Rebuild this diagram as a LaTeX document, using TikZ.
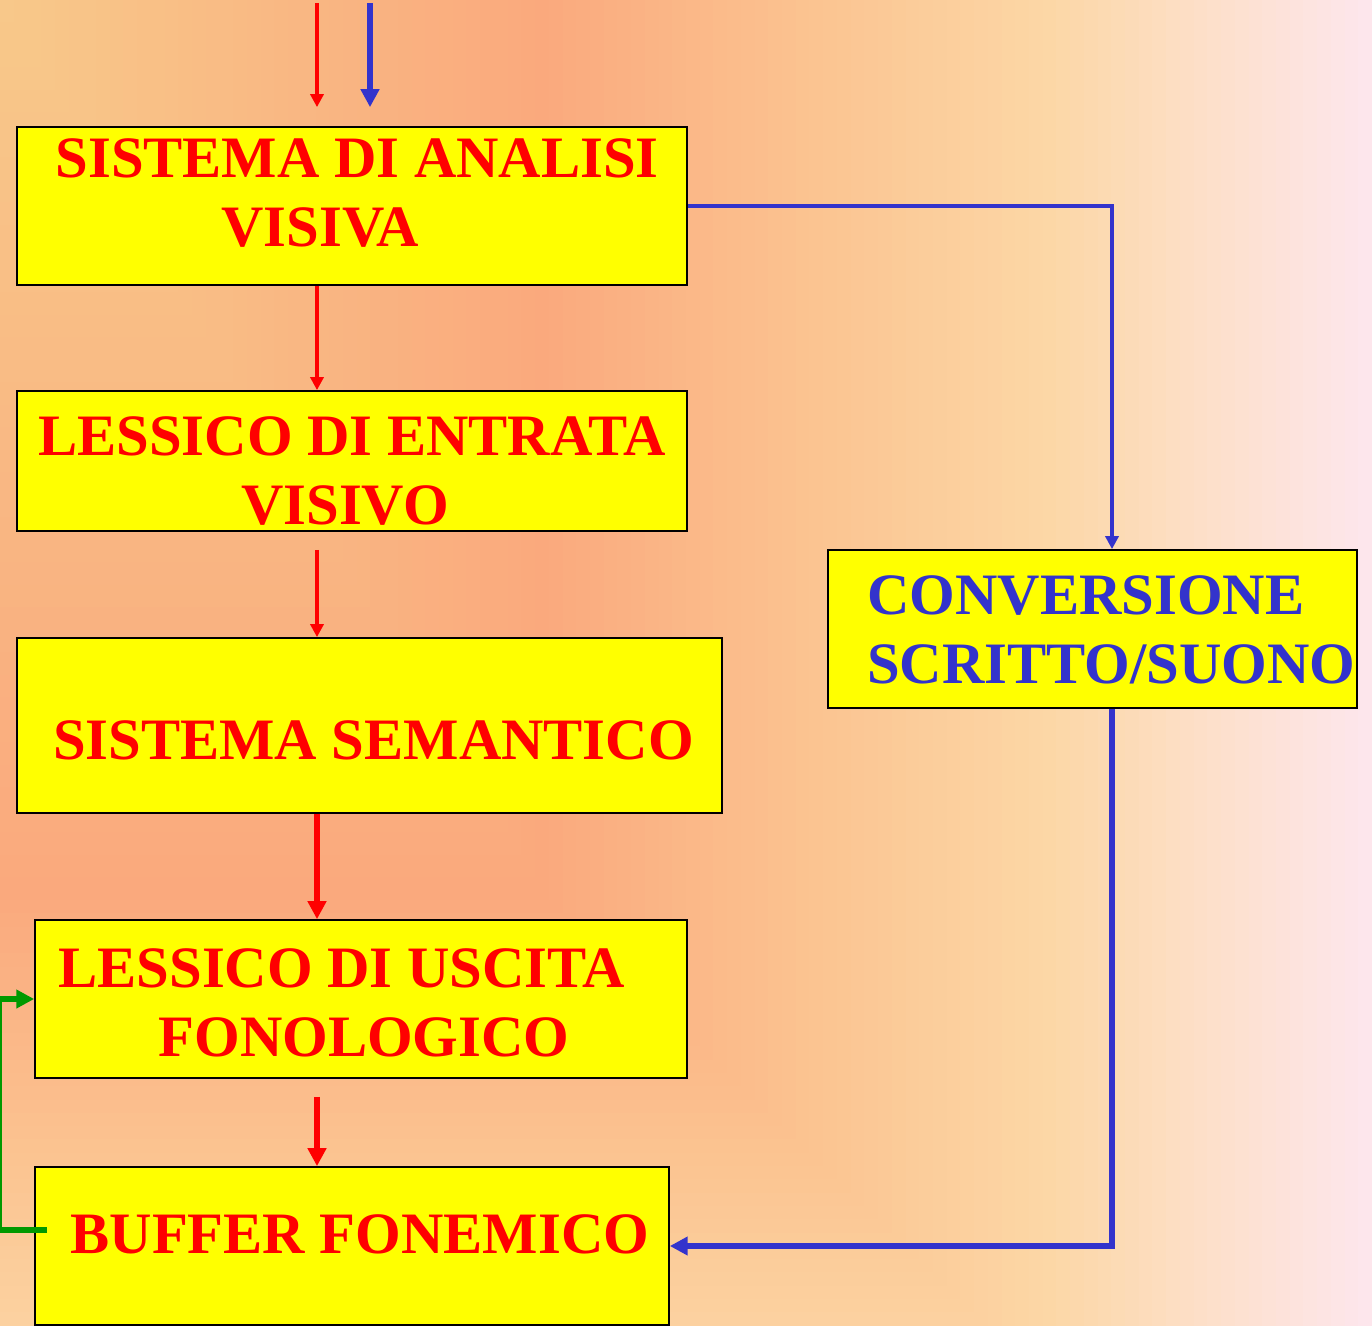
\documentclass[tikz,border=0pt]{standalone}
\usepackage{fontspec}
\setmainfont{Liberation Serif}
\usetikzlibrary{arrows.meta}

\definecolor{boxyellow}{HTML}{FFFF00}
\definecolor{txtred}{HTML}{FF0000}
\definecolor{txtblue}{HTML}{3333CC}
\definecolor{lnkgreen}{HTML}{009900}
\definecolor{bga}{HTML}{F8C98A}
\definecolor{bgb}{HTML}{FAA97D}
\definecolor{bgc}{HTML}{FBC491}
\definecolor{bgd}{HTML}{FCD7A6}
\definecolor{bge}{HTML}{FDDFC8}
\definecolor{bgf}{HTML}{FDE6EC}

% background bands, from t=#1 to t=#2, colour #3 to #4, in #5 steps
\newcommand\bgsegment[5]{%
  \foreach \k in {#5,...,0}{%
    \pgfmathsetmacro\bgt{#1+(#2-#1)*\k/#5}%
    \pgfmathsetmacro\bgy{\bgt<0.4 ? 2250*\bgt : 900+(\bgt-0.4)*1330}%
    \pgfmathtruncatemacro\bgp{100*\k/#5}%
    \fill[#4!\bgp!#3] (0,0) rectangle (1372*\bgt,\bgy);%
  }}

\tikzset{
  box/.style={draw=black, line width=1pt, fill=boxyellow, inner sep=0pt,
    font=\fontsize{33.4}{39.3}\selectfont\bfseries, text=txtred, align=center,
    text depth=0pt},
  redthin/.style={draw=txtred, line width=2.3pt, -{Triangle[length=7.4pt,width=7.4pt]}},
  redthick/.style={draw=txtred, line width=3.3pt, -{Triangle[length=10.2pt,width=10.2pt]}},
  bluethin/.style={draw=txtblue, line width=2.3pt, -{Triangle[length=7.4pt,width=7.4pt]}},
  bluethick/.style={draw=txtblue, line width=2.9pt, -{Triangle[length=10.2pt,width=10.2pt]}},
  greenthick/.style={draw=lnkgreen, line width=2.9pt, -{Triangle[length=10.2pt,width=10.2pt]}}
}

\begin{document}
\begin{tikzpicture}[x=0.02cm,y=-0.02cm]
\useasboundingbox (0,0) rectangle (1372,1325);
\begin{scope}
  \clip (0,0) rectangle (1372,1325);
  \bgsegment{0.88}{1.0}{bge}{bgf}{12}
  \bgsegment{0.77}{0.88}{bgd}{bge}{11}
  \bgsegment{0.6}{0.77}{bgc}{bgd}{17}
  \bgsegment{0.4}{0.6}{bgb}{bgc}{20}
  \bgsegment{0}{0.4}{bga}{bgb}{40}
\end{scope}

% boxes
\node[box, minimum width=13.4cm, minimum height=3.16cm, text height=46.5pt] (sav) at (352,206)
  {\kern6pt SISTEMA DI ANALISI\\VISIVA\kern36pt};
\node[box, minimum width=13.4cm, minimum height=2.8cm, text height=72.6pt] (lev) at (352,461)
  {LESSICO DI ENTRATA\\VISIVO\kern8pt};
\node[box, minimum width=14.1cm, minimum height=3.5cm, text height=39.1pt] (sem) at (369.5,725.5)
  {\kern4.5pt SISTEMA SEMANTICO};
\node[box, minimum width=13.04cm, minimum height=3.16cm, text height=65.8pt] (lus) at (361,999)
  {LESSICO DI USCITA\kern22pt\\\kern3.4pt FONOLOGICO};
\node[box, minimum width=12.68cm, minimum height=3.16cm, text height=8pt] (buf) at (352,1246)
  {\kern9pt BUFFER FONEMICO};
\node[box, minimum width=10.58cm, minimum height=3.16cm, text height=62.4pt, text=txtblue, align=left] (conv) at (1092.5,629)
  {\kern21.5pt CONVERSIONE\\\kern21.5pt SCRITTO/SUONO};

% inputs
\coordinate (rin) at (317,3);
\coordinate (bin) at (370,3);
\draw[redthin, shorten >=10.8pt] (rin) -- (rin |- sav.north);
\draw[bluethick, shorten >=10.8pt] (bin) -- (bin |- sav.north);

% lexical route
\draw[redthin] (sav.south -| rin) -- (lev.north -| rin);
\draw[redthin, shorten <=10.2pt] (lev.south -| rin) -- (sem.north -| rin);
\draw[redthick] (sem.south -| rin) -- (lus.north -| rin);
\draw[redthick, shorten <=10.2pt] (lus.south -| rin) -- (buf.north -| rin);

% sublexical route
\draw[bluethin] (sav.east) -| ([xshift=0.39cm]conv.north);
\draw[bluethick] ([xshift=0.39cm]conv.south) |- (buf.east);

% feedback
\coordinate (gst) at ([shift={(13,-16)}]buf.west);
\draw[greenthick] (gst) -- ++(-48,0) |- (lus.west);
\end{tikzpicture}
\end{document}
